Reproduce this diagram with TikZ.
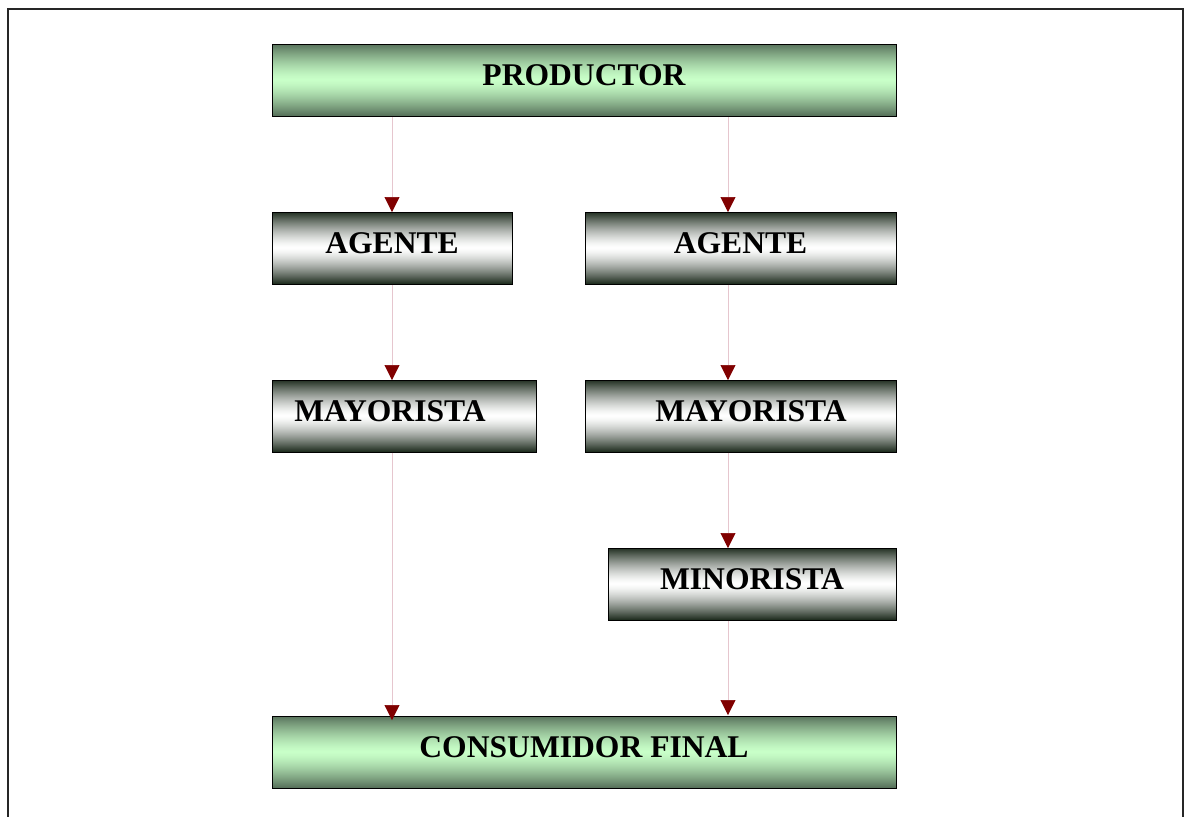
\documentclass[tikz,border=0pt]{standalone}
\usepackage{fontspec}
\setmainfont{Liberation Serif}
\usetikzlibrary{arrows.meta,calc,backgrounds}
\definecolor{lgreen}{HTML}{C8FFC8}
\definecolor{dgreen}{HTML}{56705A}
\definecolor{dgrey}{HTML}{1E2C1E}
\definecolor{linkpink}{HTML}{E6C6CE}
\definecolor{tipred}{HTML}{800000}
\tikzset{
  box/.style={draw=black, line width=0.9pt, minimum height=72pt, inner sep=0pt,
    font=\fontsize{31.6pt}{34pt}\selectfont\bfseries, text height=21pt, text depth=12pt},
  greenbox/.style={box},
  greybox/.style={box},
  link/.style={draw=linkpink, line width=0.6pt, -{Triangle[length=15pt,width=15pt,color=tipred]}}
}
\newcommand\myshadebox[3]{%
  \begin{scope}[on background layer]
    \foreach \i in {0,...,71}{
      \pgfmathsetmacro\p{min(100,100*(abs(\i+0.5-36)/36)^1.4)}
      \fill[#2!\p!#3] ($(#1.north west)+(0,\i)$) rectangle ($(#1.north east)+(0,\i+1.3)$);
    }
  \end{scope}}
\begin{document}
\begin{tikzpicture}[x=1pt,y=-1pt]
\useasboundingbox (0,0) rectangle (1185,816);
\draw[line width=1.4pt, draw=black!85] (8,830) -- (8,9) -- (1183,9) -- (1183,830);
\node[greenbox, minimum width=624pt] (prod) at (584,80.5) {PRODUCTOR};
\node[greybox, minimum width=240pt] (agL) at (392,248.5) {AGENTE};
\node[greybox, minimum width=311pt] (agR) at (740.5,248.5) {AGENTE};
\node[greybox, minimum width=264pt] (mayL) at (404,416.5) {\hspace*{-28pt}MAYORISTA};
\node[greybox, minimum width=311pt] (mayR) at (740.5,416.5) {\hspace*{21pt}MAYORISTA};
\node[greybox, minimum width=288pt] (mino) at (752,584.5) {MINORISTA};
\node[greenbox, minimum width=624pt] (cons) at (584,752.5) {CONSUMIDOR FINAL};
\myshadebox{prod}{dgreen}{lgreen}
\myshadebox{cons}{dgreen}{lgreen}
\myshadebox{agL}{dgrey}{white}
\myshadebox{agR}{dgrey}{white}
\myshadebox{mayL}{dgrey}{white}
\myshadebox{mayR}{dgrey}{white}
\myshadebox{mino}{dgrey}{white}
\coordinate (xl) at (392,0);
\coordinate (xr) at (728,0);
\draw[link] (xl |- prod.south) -- (xl |- agL.north);
\draw[link] (xr |- prod.south) -- (xr |- agR.north);
\draw[link] (xl |- agL.south) -- (xl |- mayL.north);
\draw[link] (xr |- agR.south) -- (xr |- mayR.north);
\draw[link] (xr |- mayR.south) -- (xr |- mino.north);
\draw[link] (xl |- mayL.south) -- ($(xl |- cons.north)+(0,4)$);
\draw[link] (xr |- mino.south) -- ($(xr |- cons.north)+(0,-1)$);
\end{tikzpicture}
\end{document}
